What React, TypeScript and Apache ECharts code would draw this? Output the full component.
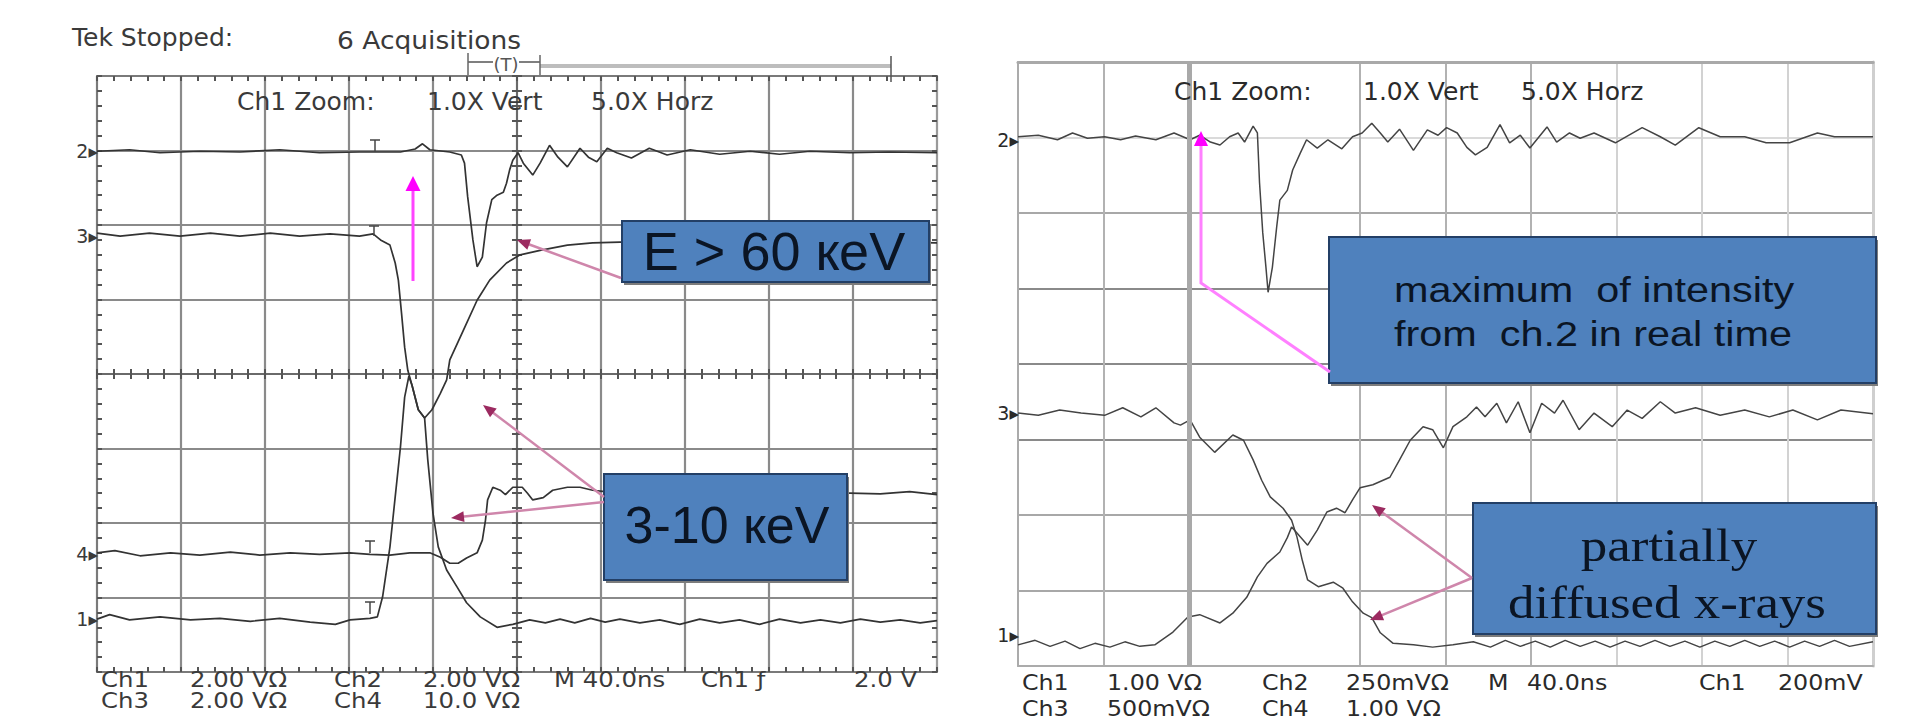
import React, { useEffect, useRef } from "react";
import * as echarts from "echarts";

// ---------- DATA (time in ns, 8 ns/div ; amplitude in divisions) ----------
const leftCh2: [number, number][] = [
  [-40, 2.99], [-36.9, 3.01], [-34.0, 2.97], [-30.2, 2.99], [-26.4, 2.98], [-22.6, 3.01], [-18.8, 2.97],
  [-15.0, 2.98], [-11.1, 2.98], [-9.7, 3.02], [-9.0, 3.09], [-8.3, 3.01], [-6.4, 2.98], [-5.3, 2.94],
  [-5.0, 2.83], [-4.7, 2.38], [-4.2, 1.8], [-3.8, 1.44], [-3.3, 1.57], [-2.9, 2.03], [-2.4, 2.34],
  [-1.9, 2.4], [-1.3, 2.44], [-1.0, 2.56], [-0.7, 2.74], [-0.4, 2.87], [0.1, 2.97], [0.6, 2.83],
  [1.5, 2.67], [2.2, 2.83], [3.1, 3.07], [3.9, 2.91], [4.8, 2.78], [6.0, 3.03], [6.8, 2.91], [7.6, 2.85],
  [8.6, 3.03], [9.5, 2.97], [10.9, 2.9], [12.6, 3.03], [14.3, 2.94], [16.5, 3.01], [19.3, 2.95],
  [22.2, 2.99], [25.0, 2.95], [27.9, 2.99], [31.7, 2.97], [35.5, 2.98], [40, 2.97],
];
const leftCh3: [number, number][] = [
  [-40, 1.89], [-37.8, 1.85], [-35.0, 1.89], [-32.1, 1.85], [-29.2, 1.89], [-26.4, 1.85], [-23.5, 1.89],
  [-20.7, 1.85], [-17.8, 1.88], [-15.0, 1.85], [-13.7, 1.88], [-13.0, 1.8], [-12.1, 1.73], [-11.6, 1.49],
  [-11.3, 1.26], [-11.0, 0.82], [-10.7, 0.36], [-10.4, 0.05], [-10.0, -0.15], [-9.4, -0.48], [-8.8, -0.59],
  [-8.1, -0.48], [-7.3, -0.26], [-6.7, -0.08], [-6.4, 0.19], [-5.1, 0.59], [-3.8, 0.99], [-2.6, 1.26],
  [-1.0, 1.49], [0.3, 1.6], [2.2, 1.66], [4.8, 1.73], [7.2, 1.76], [9.8, 1.77], [17.4, 1.77], [27.0, 1.79],
  [34.6, 1.77], [40, 1.76],
];
const leftCh1: [number, number][] = [
  [-40, -3.29], [-38.8, -3.23], [-36.9, -3.3], [-34.0, -3.26], [-31.1, -3.3], [-28.3, -3.28], [-25.4, -3.32],
  [-22.6, -3.28], [-19.7, -3.33], [-17.3, -3.36], [-15.9, -3.3], [-14.0, -3.28], [-13.3, -3.26], [-12.8, -2.99],
  [-12.1, -2.32], [-11.6, -1.65], [-11.1, -0.98], [-10.7, -0.31], [-10.3, -0.03], [-10.0, -0.15], [-9.4, -0.48],
  [-8.8, -0.59], [-8.5, -1.15], [-8.0, -1.87], [-7.5, -2.32], [-6.7, -2.63], [-5.7, -2.86], [-4.8, -3.07],
  [-3.5, -3.26], [-1.9, -3.4], [-0.4, -3.36], [1.2, -3.3], [2.7, -3.34], [4.1, -3.29], [5.5, -3.34],
  [7.0, -3.28], [8.4, -3.33], [9.8, -3.29], [11.7, -3.34], [13.6, -3.3], [15.5, -3.36], [17.4, -3.29],
  [19.3, -3.34], [21.2, -3.3], [23.1, -3.36], [25.0, -3.29], [27.0, -3.34], [28.9, -3.3], [30.8, -3.34],
  [32.7, -3.29], [34.6, -3.33], [36.5, -3.3], [38.4, -3.34], [40, -3.31],
];
const leftCh4: [number, number][] = [
  [-40, -2.4], [-38.3, -2.37], [-35.9, -2.44], [-33.0, -2.4], [-30.2, -2.43], [-27.3, -2.39], [-24.5, -2.43],
  [-21.6, -2.4], [-18.8, -2.42], [-15.9, -2.4], [-14.0, -2.42], [-12.1, -2.43], [-10.2, -2.4], [-8.3, -2.4],
  [-7.3, -2.46], [-6.4, -2.54], [-5.6, -2.54], [-4.8, -2.47], [-3.8, -2.4], [-3.3, -2.23], [-3.0, -1.96],
  [-2.8, -1.69], [-2.3, -1.52], [-1.6, -1.56], [-1.1, -1.62], [-0.4, -1.52], [0.5, -1.52], [1.0, -1.6],
  [1.5, -1.69], [2.5, -1.66], [3.4, -1.56], [4.8, -1.52], [6.0, -1.52], [7.2, -1.56], [8.4, -1.58],
  [31.7, -1.6], [34.6, -1.61], [37.4, -1.58], [40, -1.62],
];

const rightCh2: [number, number][] = [
  [-40, 3.01], [-38.1, 3.03], [-36.3, 2.97], [-34.9, 3.06], [-33.5, 2.99], [-31.9, 3.01], [-30.4, 2.97],
  [-29.0, 3.02], [-27.1, 2.97], [-25.4, 3.06], [-23.9, 2.97], [-23.0, 3.03], [-22.0, 2.94], [-21.1, 2.9],
  [-20.2, 3.01], [-19.4, 3.06], [-18.8, 2.94], [-18.0, 3.15], [-17.6, 3.06], [-17.4, 2.4], [-17.1, 1.74],
  [-16.8, 1.28], [-16.6, 0.95], [-16.2, 1.28], [-15.8, 1.81], [-15.5, 2.17], [-14.8, 2.3], [-14.3, 2.57],
  [-13.6, 2.79], [-13.0, 2.97], [-12.0, 2.86], [-11.0, 2.97], [-9.7, 2.85], [-8.7, 3.01], [-7.8, 3.06],
  [-6.9, 3.19], [-6.1, 3.06], [-5.4, 2.94], [-4.3, 3.11], [-3.0, 2.83], [-1.7, 3.1], [-0.7, 3.03],
  [0.1, 3.13], [1.1, 3.06], [2.0, 2.87], [2.8, 2.77], [3.9, 2.87], [5.1, 3.17], [6.0, 2.93], [7.0, 3.03],
  [7.9, 2.86], [9.5, 3.14], [10.4, 2.94], [11.6, 3.06], [12.6, 2.99], [13.9, 3.06], [15.9, 2.93],
  [18.4, 3.13], [20.1, 3.01], [21.5, 2.9], [23.7, 3.13], [25.7, 3.01], [28.0, 3.01], [30.0, 2.93],
  [32.2, 2.93], [34.8, 3.06], [36.4, 3.01], [40, 3.01],
];
const rightCh3: [number, number][] = [
  [-40, -0.65], [-38.1, -0.68], [-36.1, -0.61], [-34.1, -0.65], [-31.9, -0.68], [-30.2, -0.58], [-28.5, -0.7],
  [-27.1, -0.58], [-25.4, -0.78], [-24.8, -0.81], [-23.9, -0.74], [-23.0, -0.97], [-21.6, -1.17], [-19.9, -0.94],
  [-18.9, -1.01], [-18.0, -1.27], [-17.2, -1.54], [-16.4, -1.76], [-15.2, -1.91], [-14.4, -2.07], [-13.9, -2.29],
  [-13.4, -2.6], [-12.9, -2.86], [-11.9, -2.95], [-10.5, -2.89], [-9.6, -2.97], [-8.7, -3.15], [-7.7, -3.3],
  [-6.9, -3.36], [-6.1, -3.56], [-4.9, -3.7], [-3.0, -3.72], [-1.2, -3.75], [0.7, -3.72], [2.6, -3.68],
  [4.2, -3.75], [5.6, -3.66], [7.0, -3.74], [8.4, -3.67], [9.8, -3.75], [11.2, -3.66], [12.6, -3.74],
  [14.0, -3.67], [15.4, -3.75], [16.8, -3.67], [18.2, -3.74], [19.6, -3.66], [21.0, -3.74], [22.4, -3.67],
  [23.8, -3.75], [25.2, -3.67], [26.6, -3.74], [28.0, -3.66], [29.4, -3.74], [30.8, -3.67], [32.2, -3.75],
  [33.6, -3.67], [35.0, -3.74], [36.4, -3.66], [37.8, -3.74], [40, -3.68],
];
const rightCh1: [number, number][] = [
  [-40, -3.72], [-38.4, -3.66], [-37.0, -3.74], [-35.6, -3.67], [-34.2, -3.77], [-32.8, -3.7], [-31.4, -3.75],
  [-30.0, -3.68], [-28.6, -3.74], [-27.2, -3.72], [-25.5, -3.55], [-24.1, -3.35], [-23.0, -3.32], [-21.1, -3.43],
  [-19.9, -3.3], [-18.6, -3.09], [-17.6, -2.82], [-16.7, -2.64], [-15.5, -2.49], [-14.8, -2.3], [-14.4, -2.16],
  [-13.9, -2.24], [-12.9, -2.4], [-12.0, -2.2], [-11.1, -1.96], [-10.2, -1.91], [-9.4, -1.97], [-8.7, -1.8],
  [-8.0, -1.64], [-6.8, -1.6], [-5.2, -1.5], [-4.3, -1.27], [-3.3, -1.01], [-2.1, -0.83], [-1.2, -0.87],
  [-0.2, -1.11], [0.7, -0.83], [2.0, -0.7], [2.9, -0.57], [3.7, -0.7], [4.8, -0.52], [5.7, -0.78], [6.8, -0.5],
  [7.9, -0.91], [9.0, -0.52], [10.2, -0.65], [11.0, -0.48], [12.5, -0.87], [13.9, -0.65], [15.6, -0.83],
  [17.0, -0.61], [18.4, -0.72], [20.1, -0.5], [21.5, -0.65], [23.4, -0.58], [25.7, -0.68], [28.0, -0.61],
  [30.3, -0.7], [32.5, -0.61], [34.8, -0.74], [37.0, -0.61], [40, -0.66],
];

// ---------- TEXT ----------
const leftHeader = ["Tek Stopped:", "6 Acquisitions"];
const zoomLabels = ["Ch1 Zoom:", "1.0X Vert", "5.0X Horz"];
const leftFooter1 = ["Ch1", "2.00 VΩ", "Ch2", "2.00 VΩ", "M 40.0ns", "Ch1 ƒ", "2.0 V"];
const leftFooter2 = ["Ch3", "2.00 VΩ", "Ch4", "10.0 VΩ"];
const rightFooter1 = ["Ch1", "1.00 VΩ", "Ch2", "250mVΩ", "M", "40.0ns", "Ch1", "200mV"];
const rightFooter2 = ["Ch3", "500mVΩ", "Ch4", "1.00 VΩ"];
const leftMarkers = ["2", "3", "4", "1"];
const rightMarkers = ["2", "3", "1"];
const boxE60 = "E > 60 кeV";
const box310 = "3-10 кeV";
const boxMax = ["maximum  of intensity", "from  ch.2 in real time"];
const boxPartial = ["partially", "diffused x-rays"];

// ---------- LAYOUT ----------
const LG = { left: 97, top: 76, width: 840, height: 596 };
const RG = { left: 1018, top: 62, width: 855, height: 604 };
const SCOPE_FONT = "'DejaVu Sans', sans-serif";

function txt(s: string, x: number, y: number, size: number, opt: any = {}) {
  return {
    type: "text",
    z: 120,
    x,
    y,
    scaleX: opt.scaleX ?? 1,
    style: {
      text: s,
      fill: opt.fill ?? "#3a3a3a",
      fontSize: size,
      fontFamily: opt.font ?? SCOPE_FONT,
      fontWeight: opt.weight ?? "normal",
      align: opt.align ?? "left",
      textAlign: opt.align ?? "left",
      verticalAlign: "middle",
      textVerticalAlign: "middle",
    },
  };
}

function arrow(x1: number, y1: number, x2: number, y2: number, lc: string, hc: string, lw: number, hl: number, hw: number) {
  const dx = x2 - x1, dy = y2 - y1, L = Math.hypot(dx, dy);
  const ux = dx / L, uy = dy / L;
  const bx = x2 - ux * hl, by = y2 - uy * hl;
  const px = (-uy * hw) / 2, py = (ux * hw) / 2;
  return [
    { type: "line", z: 110, shape: { x1, y1, x2: bx + ux * 2, y2: by + uy * 2 }, style: { stroke: lc, lineWidth: lw } },
    { type: "polygon", z: 111, shape: { points: [[x2, y2], [bx + px, by + py], [bx - px, by - py]] }, style: { fill: hc } },
  ];
}

function box(x: number, y: number, w: number, h: number) {
  return [
    { type: "rect", z: 100, shape: { x: x + 2, y: y + 3, width: w, height: h }, style: { fill: "#7c7c7c" } },
    { type: "rect", z: 101, shape: { x, y, width: w, height: h }, style: { fill: "#4f81bd", stroke: "#233f66", lineWidth: 2 } },
  ];
}

function tMark(x: number, y1: number, y2: number) {
  return [
    { type: "line", z: 90, shape: { x1: x, y1, x2: x, y2 }, style: { stroke: "#444", lineWidth: 1.5 } },
    { type: "line", z: 90, shape: { x1: x - 5, y1, x2: x + 5, y2: y1 }, style: { stroke: "#444", lineWidth: 1.5 } },
  ];
}

function buildGraphic() {
  const g: any[] = [];
  // left header
  g.push(txt(leftHeader[0], 72, 37, 25));
  g.push(txt(leftHeader[1], 337, 40, 25, { scaleX: 1.06 }));
  // trigger bar
  g.push({ type: "line", z: 90, shape: { x1: 540, y1: 66, x2: 891, y2: 66 }, style: { stroke: "#bdbdbd", lineWidth: 4 } });
  g.push({ type: "line", z: 91, shape: { x1: 468, y1: 62, x2: 540, y2: 62 }, style: { stroke: "#555", lineWidth: 1.5 } });
  g.push({ type: "line", z: 91, shape: { x1: 468, y1: 53, x2: 468, y2: 75 }, style: { stroke: "#666", lineWidth: 1.5 } });
  g.push({ type: "line", z: 91, shape: { x1: 540, y1: 55, x2: 540, y2: 75 }, style: { stroke: "#666", lineWidth: 1.5 } });
  g.push({ type: "line", z: 91, shape: { x1: 891, y1: 56, x2: 891, y2: 82 }, style: { stroke: "#555", lineWidth: 1.5 } });
  g.push({ type: "rect", z: 91, shape: { x: 493, y: 56, width: 26, height: 16 }, style: { fill: "#fff" } });
  g.push(txt("(T)", 506, 64, 18, { align: "center", fill: "#555" }));
  // zoom labels
  const lzx = [237, 427, 591];
  zoomLabels.forEach((s, i) => g.push(txt(s, lzx[i], 101, 25)));
  const rzx = [1174, 1363, 1521];
  zoomLabels.forEach((s, i) => g.push(txt(s, rzx[i], 91, 25, { fill: "#2a2a2a" })));
  // footers
  const lf1x = [101, 190, 334, 423, 554, 701, 854];
  leftFooter1.forEach((s, i) => g.push(txt(s, lf1x[i], 680, 21, { scaleX: 1.16 })));
  const lf2x = [101, 190, 334, 423];
  leftFooter2.forEach((s, i) => g.push(txt(s, lf2x[i], 701, 21, { scaleX: 1.16 })));
  const rf1x = [1022, 1107, 1262, 1346, 1488, 1527, 1699, 1778];
  rightFooter1.forEach((s, i) => g.push(txt(s, rf1x[i], 682, 22, { fill: "#2a2a2a", scaleX: 1.08 })));
  const rf2x = [1022, 1107, 1262, 1346];
  rightFooter2.forEach((s, i) => g.push(txt(s, rf2x[i], 708, 22, { fill: "#2a2a2a", scaleX: 1.08 })));
  // channel markers
  const lmy = [151, 236, 554, 619];
  leftMarkers.forEach((s, i) => g.push(txt(s + "▸", 98, lmy[i], 19, { align: "right" })));
  const rmy = [140, 413, 635];
  rightMarkers.forEach((s, i) => g.push(txt(s + "▸", 1019, rmy[i], 19, { align: "right", fill: "#2a2a2a" })));
  // T marks
  g.push(...tMark(375, 140, 152), ...tMark(374, 226, 236), ...tMark(370, 541, 553), ...tMark(370, 602, 614));
  // magenta arrow (left)
  g.push(...arrow(413, 281, 413, 176, "#ff44ff", "#ff00ff", 3, 15, 15));
  // left boxes
  g.push(...box(622, 221, 307, 61));
  g.push(txt(boxE60, 774, 251, 54, { align: "center", fill: "#0b1524", font: "'Liberation Sans', Arial, sans-serif" }));
  g.push(...box(604, 474, 243, 106));
  g.push(txt(box310, 727, 525, 52, { align: "center", fill: "#0b1524", font: "'Liberation Sans', Arial, sans-serif" }));
  // left mauve arrows
  g.push(...arrow(621, 278, 517, 240, "#cf86ab", "#9c2a60", 2.5, 13, 11));
  g.push(...arrow(604, 497, 483, 405, "#cf86ab", "#9c2a60", 2.5, 13, 11));
  g.push(...arrow(604, 502, 451, 518, "#cf86ab", "#9c2a60", 2.5, 13, 11));
  // right pink polyline + head
  g.push({ type: "polyline", z: 110, shape: { points: [[1330, 372], [1201, 283], [1201, 146]] }, style: { stroke: "#ff80ff", lineWidth: 3, fill: "none" } });
  g.push({ type: "polygon", z: 111, shape: { points: [[1201, 131], [1194, 146], [1208, 146]] }, style: { fill: "#ff00ff" } });
  // right boxes
  g.push(...box(1329, 237, 547, 146));
  g.push(txt(boxMax[0], 1394, 289, 36, { fill: "#0b1524", font: "'Liberation Sans', Arial, sans-serif", scaleX: 1.15 }));
  g.push(txt(boxMax[1], 1394, 333, 36, { fill: "#0b1524", font: "'Liberation Sans', Arial, sans-serif", scaleX: 1.15 }));
  g.push(...box(1473, 503, 403, 131));
  g.push(txt(boxPartial[0], 1669, 546, 46, { align: "center", fill: "#0b1524", font: "'Liberation Serif', 'Times New Roman', serif", scaleX: 1.15 }));
  g.push(txt(boxPartial[1], 1667, 603, 46, { align: "center", fill: "#0b1524", font: "'Liberation Serif', 'Times New Roman', serif", scaleX: 1.15 }));
  // right mauve arrows
  g.push(...arrow(1472, 578, 1372, 505, "#cf86ab", "#9c2a60", 2.5, 13, 11));
  g.push(...arrow(1472, 578, 1370, 620, "#cf86ab", "#9c2a60", 2.5, 13, 11));
  return g;
}

function buildOption() {
  const noLabel = { show: false };
  const tickStyle = { color: "#555", width: 2 };
  const xBase = { type: "value", min: -40, max: 40, interval: 8, axisLabel: noLabel };
  const yBase = { type: "value", min: -4, max: 4, interval: 1, axisLabel: noLabel };
  const xAxis: any[] = [
    // left grid: bottom border + vertical grid lines
    { ...xBase, gridIndex: 0, position: "bottom", axisLine: { onZero: false, lineStyle: { color: "#7a7a7a", width: 2 } },
      axisTick: { inside: true, length: 5, lineStyle: tickStyle }, minorTick: { show: true, splitNumber: 5, length: 5, lineStyle: tickStyle },
      splitLine: { show: true, lineStyle: { color: "#8a8a8a", width: 2.2 } } },
    // top border
    { ...xBase, gridIndex: 0, position: "top", axisLine: { onZero: false, lineStyle: { color: "#7a7a7a", width: 2 } },
      axisTick: { inside: true, length: 5, lineStyle: tickStyle }, minorTick: { show: true, splitNumber: 5, length: 5, lineStyle: tickStyle },
      splitLine: { show: false } },
    // centre horizontal line, ticks up
    { ...xBase, gridIndex: 0, position: "bottom", axisLine: { onZero: true, onZeroAxisIndex: 0, lineStyle: { color: "#6a6a6a", width: 2 } },
      axisTick: { inside: true, length: 5, lineStyle: tickStyle }, minorTick: { show: true, splitNumber: 5, length: 5, lineStyle: tickStyle },
      splitLine: { show: false } },
    // centre horizontal line, ticks down
    { ...xBase, gridIndex: 0, position: "bottom", axisLine: { show: false, onZero: true, onZeroAxisIndex: 0 },
      axisTick: { inside: false, length: 5, lineStyle: tickStyle }, minorTick: { show: true, splitNumber: 5, length: 5, lineStyle: tickStyle },
      splitLine: { show: false } },
    // right grid
    { ...xBase, gridIndex: 1, position: "bottom", axisLine: { onZero: false, lineStyle: { color: "#ababab", width: 2 } },
      axisTick: { show: false },
      splitLine: { show: true, lineStyle: { width: 2, color: ["#b2b2b2", "#b2b2b2", "#a6a6a6", "rgba(0,0,0,0)", "#b2b2b2", "#b2b2b2", "#b2b2b2", "#d2d2d2", "#d2d2d2", "#d2d2d2", "#d2d2d2"] } } },
    { ...xBase, gridIndex: 1, position: "top", axisLine: { onZero: false, lineStyle: { color: "#a9a9a9", width: 3 } },
      axisTick: { show: false }, splitLine: { show: false } },
  ];
  const yAxis: any[] = [
    { ...yBase, gridIndex: 0, position: "left", axisLine: { onZero: false, lineStyle: { color: "#7a7a7a", width: 2 } },
      axisTick: { inside: true, length: 5, lineStyle: tickStyle }, minorTick: { show: true, splitNumber: 5, length: 5, lineStyle: tickStyle },
      splitLine: { show: true, lineStyle: { color: "#8a8a8a", width: 2.2 } } },
    { ...yBase, gridIndex: 0, position: "right", axisLine: { onZero: false, lineStyle: { color: "#9a9a9a", width: 2 } },
      axisTick: { inside: true, length: 5, lineStyle: tickStyle }, minorTick: { show: true, splitNumber: 5, length: 5, lineStyle: tickStyle },
      splitLine: { show: false } },
    { ...yBase, gridIndex: 0, position: "left", axisLine: { onZero: true, onZeroAxisIndex: 0, lineStyle: { color: "#6a6a6a", width: 2 } },
      axisTick: { inside: true, length: 5, lineStyle: tickStyle }, minorTick: { show: true, splitNumber: 5, length: 5, lineStyle: tickStyle },
      splitLine: { show: false } },
    { ...yBase, gridIndex: 0, position: "left", axisLine: { show: false, onZero: true, onZeroAxisIndex: 0 },
      axisTick: { inside: false, length: 5, lineStyle: tickStyle }, minorTick: { show: true, splitNumber: 5, length: 5, lineStyle: tickStyle },
      splitLine: { show: false } },
    { ...yBase, gridIndex: 1, position: "left", axisLine: { onZero: false, lineStyle: { color: "#ababab", width: 2 } },
      axisTick: { show: false },
      splitLine: { show: true, lineStyle: { width: 2, color: ["#a8a8a8", "#a8a8a8", "#a8a8a8", "#8a8a8a", "#8a8a8a", "#8a8a8a", "#a8a8a8", "#dadada", "#a8a8a8"] } } },
    { ...yBase, gridIndex: 1, position: "right", axisLine: { onZero: false, lineStyle: { color: "#cfcfcf", width: 3 } },
      axisTick: { show: false }, splitLine: { show: false } },
  ];
  const lTrace = { type: "line", symbol: "none", silent: true, xAxisIndex: 0, yAxisIndex: 0, z: 3, lineStyle: { color: "#333", width: 1.7 } };
  const rTrace = { type: "line", symbol: "none", silent: true, xAxisIndex: 4, yAxisIndex: 4, z: 3, lineStyle: { color: "#444", width: 1.5 } };
  return {
    animation: false,
    backgroundColor: "#ffffff",
    grid: [
      { ...LG, show: false },
      { ...RG, show: false },
    ],
    xAxis,
    yAxis,
    series: [
      { ...lTrace, name: "L Ch2", data: leftCh2 },
      { ...lTrace, name: "L Ch3", data: leftCh3 },
      { ...lTrace, name: "L Ch1", data: leftCh1 },
      { ...lTrace, name: "L Ch4", data: leftCh4 },
      { ...rTrace, name: "R Ch3", data: rightCh3,
        markLine: { silent: true, symbol: "none", label: { show: false }, lineStyle: { color: "#a9a9a9", width: 5, type: "solid" }, data: [{ xAxis: -24 }] } },
      { ...rTrace, name: "R Ch1", data: rightCh1 },
      { ...rTrace, name: "R Ch2", data: rightCh2 },
    ],
    graphic: { elements: buildGraphic() },
  };
}

export default function App() {
  const ref = useRef<HTMLDivElement>(null);
  useEffect(() => {
    if (!ref.current) return;
    const chart = echarts.init(ref.current, null, { renderer: "svg" });
    chart.setOption(buildOption() as any);
    return () => chart.dispose();
  }, []);
  return (
    <div
      ref={ref}
      style={{ position: "fixed", left: 0, top: 0, width: 1906, height: 728, background: "#fff" }}
    />
  );
}
